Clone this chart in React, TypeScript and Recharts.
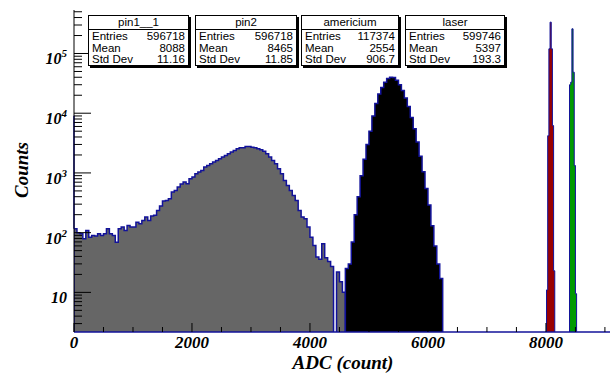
import { ComposedChart, Area, XAxis, YAxis, ReferenceLine } from 'recharts';

// histogram counts (log scale)
const greyStart = 0;
const greyBin = 50;
const greyCounts = [
  116, 100, 96, 79, 109, 84, 90, 88, 96, 90,
  96, 116, 96, 90, 69, 116, 124, 109, 132, 124,
  124, 150, 141, 160, 182, 160, 190, 195, 236, 280,
  340, 345, 370, 478, 509, 579, 650, 703, 659, 798,
  851, 968, 1033, 1100, 1253, 1336, 1425, 1518, 1620, 1727,
  1841, 1963, 2094, 2233, 2380, 2540, 2636, 2636, 2775, 2775,
  2700, 2636, 2540, 2443, 2317, 2094, 1841, 1620, 1425, 1175,
  968, 749, 618, 509, 420, 347, 236, 182, 171, 124,
  84, 61, 39, 36, 65, 38, 33, 27, 1, 22,
  15, 10,
];

const blackStart = 4600;
const blackBin = 50;
const blackCounts = [
  25, 30, 70, 200, 400, 900, 1700, 3000, 5000, 9000,
  14500, 21000, 27000, 33000, 38000, 40200, 39500, 35500, 30000, 24000,
  18000, 13000, 8500, 5500, 3300, 1900, 1050, 550, 290, 130,
  60, 30, 17,
];

const redStart = 8010;
const redBin = 20;
const redCounts = [11, 4200, 120000, 335000, 120000, 6200, 23];

const greenStart = 8400;
const greenBin = 20;
const greenCounts = [30000, 33100, 259000, 48600, 1330, 9.5];

// axes
const xTicks = [0, 500, 1000, 1500, 2000, 2500, 3000, 3500, 4000, 4500, 5000, 5500, 6000, 6500, 7000, 7500, 8000, 8500, 9000];
const xLabelEvery = 2000;
const decades = [1, 10, 100, 1000, 10000, 100000];
const X_DOMAIN: [number, number] = [0, 9120];
const Y_DOMAIN: [number, number] = [2.17, 535000];

// stat boxes
const statTitles = ['pin1__1', 'pin2', 'americium', 'laser'];
const statEntries = ['596718', '596718', '117374', '599746'];
const statMeans = ['8088', '8465', '2554', '5397'];
const statStdDevs = ['11.16', '11.85', '906.7', '193.3'];
const statLefts = [88, 195, 301, 405];
const statWidths = [101, 102, 98, 100];

const PLOT_L = 74;
const PLOT_R = 612;
const PLOT_T = 10;
const PLOT_B = 332;
const FLOOR = 1;
const OUTLINE = '#12129a';

const serif = {
  fontFamily: "'Liberation Serif', 'Times New Roman', serif",
  fontWeight: 'bold' as const,
  fontStyle: 'italic' as const,
  fill: '#000',
};

const yTicks: number[] = [];
decades.forEach((d) => {
  for (let m = 1; m <= 9; m++) {
    const v = d * m;
    if (v >= Y_DOMAIN[0] && v <= Y_DOMAIN[1]) yTicks.push(v);
  }
});

function buildHist(start: number, bin: number, counts: number[]) {
  const end = start + counts.length * bin;
  return [
    { x: start, y: FLOOR },
    ...counts.map((c, i) => ({ x: start + i * bin, y: c })),
    { x: end, y: counts[counts.length - 1] },
    { x: end, y: FLOOR },
  ];
}

const greyData = buildHist(greyStart, greyBin, greyCounts);
const blackData = buildHist(blackStart, blackBin, blackCounts);
const redData = buildHist(redStart, redBin, redCounts);
const greenData = buildHist(greenStart, greenBin, greenCounts);

const isDecade = (v: number) => {
  const e = Math.log10(v);
  return Math.abs(e - Math.round(e)) < 1e-9;
};

// eslint-disable-next-line @typescript-eslint/no-explicit-any
const BottomTick = ({ x, payload }: any) => {
  const v = payload.value;
  const major = v % xLabelEvery === 0;
  return (
    <g>
      <line x1={x} x2={x} y1={PLOT_B} y2={PLOT_B - (major ? 9 : 5)} stroke="#000" />
      {major && (
        <text x={x} y={348} textAnchor="middle" fontSize={17} style={serif}>
          {v}
        </text>
      )}
    </g>
  );
};

// eslint-disable-next-line @typescript-eslint/no-explicit-any
const TopTick = ({ x, payload }: any) => {
  const major = payload.value % xLabelEvery === 0;
  return <line x1={x} x2={x} y1={PLOT_T} y2={PLOT_T + (major ? 9 : 5)} stroke="#000" />;
};

// eslint-disable-next-line @typescript-eslint/no-explicit-any
const LeftTick = ({ y, payload }: any) => {
  const v = payload.value;
  const major = isDecade(v);
  const n = Math.round(Math.log10(v));
  return (
    <g>
      <line x1={PLOT_L} x2={PLOT_L + (major ? 17 : 8)} y1={y} y2={y} stroke="#000" />
      {major && (
        <text x={67} y={y + 11} textAnchor="end" fontSize={16} style={serif}>
          10
          {n > 1 && (
            <tspan dy={-7} fontSize={11}>
              {n}
            </tspan>
          )}
        </text>
      )}
    </g>
  );
};

// eslint-disable-next-line @typescript-eslint/no-explicit-any
const RightTick = ({ y, payload }: any) => {
  const major = isDecade(payload.value);
  return <line x1={PLOT_R} x2={PLOT_R - (major ? 17 : 8)} y1={y} y2={y} stroke="#000" />;
};

function StatBox({ i }: { i: number }) {
  const row = {
    display: 'flex',
    justifyContent: 'space-between',
    padding: '0 3px',
    height: 11.5,
    lineHeight: '11.5px',
  };
  return (
    <div
      style={{
        position: 'absolute',
        left: statLefts[i],
        top: 15,
        width: statWidths[i],
        height: 51,
        boxSizing: 'border-box',
        border: '1px solid #000',
        background: '#fff',
        boxShadow: '2px 2px 0 #000',
        fontFamily: "'Liberation Sans', Arial, sans-serif",
        fontSize: 11.5,
        color: '#000',
      }}
    >
      <div style={{ height: 13, lineHeight: '13px', textAlign: 'center', borderBottom: '1px solid #000' }}>
        {statTitles[i]}
      </div>
      <div style={{ paddingTop: 1 }}>
        <div style={row}>
          <span>Entries</span>
          <span>{statEntries[i]}</span>
        </div>
        <div style={row}>
          <span>Mean</span>
          <span>{statMeans[i]}</span>
        </div>
        <div style={row}>
          <span>Std Dev</span>
          <span>{statStdDevs[i]}</span>
        </div>
      </div>
    </div>
  );
}

export default function App() {
  return (
    <div
      style={{
        position: 'fixed',
        left: 0,
        top: 0,
        width: 610,
        height: 374,
        overflow: 'hidden',
        background: '#fff',
      }}
    >
      <ComposedChart width={620} height={374} margin={{ top: PLOT_T, right: 620 - PLOT_R, left: 0, bottom: 0 }}>
        <XAxis
          xAxisId="b"
          dataKey="x"
          type="number"
          domain={X_DOMAIN}
          allowDataOverflow
          ticks={xTicks}
          interval={0}
          tickLine={false}
          tick={<BottomTick />}
          height={374 - PLOT_B}
          axisLine={{ stroke: OUTLINE, strokeWidth: 1.5 }}
        />
        <XAxis
          xAxisId="t"
          orientation="top"
          dataKey="x"
          type="number"
          domain={X_DOMAIN}
          allowDataOverflow
          ticks={xTicks}
          interval={0}
          tickLine={false}
          tick={<TopTick />}
          height={0}
          axisLine={{ stroke: '#000' }}
        />
        <YAxis
          yAxisId="l"
          dataKey="y"
          type="number"
          scale="log"
          domain={Y_DOMAIN}
          allowDataOverflow
          ticks={yTicks}
          interval={0}
          tickLine={false}
          tick={<LeftTick />}
          width={PLOT_L}
          axisLine={{ stroke: '#000' }}
        />
        <YAxis
          yAxisId="r"
          orientation="right"
          dataKey="y"
          type="number"
          scale="log"
          domain={Y_DOMAIN}
          allowDataOverflow
          ticks={yTicks}
          interval={0}
          tickLine={false}
          tick={<RightTick />}
          width={0}
          axisLine={{ stroke: '#000' }}
        />
        <Area
          xAxisId="b"
          yAxisId="l"
          data={greyData}
          dataKey="y"
          type="stepAfter"
          baseValue="dataMin"
          fill="#666666"
          fillOpacity={1}
          stroke={OUTLINE}
          strokeWidth={1.5}
          isAnimationActive={false}
        />
        <Area
          xAxisId="b"
          yAxisId="l"
          data={blackData}
          dataKey="y"
          type="stepAfter"
          baseValue="dataMin"
          fill="#000000"
          fillOpacity={1}
          stroke={OUTLINE}
          strokeWidth={1.5}
          isAnimationActive={false}
        />
        <Area
          xAxisId="b"
          yAxisId="l"
          data={redData}
          dataKey="y"
          type="stepAfter"
          baseValue="dataMin"
          fill="#990000"
          fillOpacity={1}
          stroke={OUTLINE}
          strokeWidth={1}
          isAnimationActive={false}
        />
        <Area
          xAxisId="b"
          yAxisId="l"
          data={greenData}
          dataKey="y"
          type="stepAfter"
          baseValue="dataMin"
          fill="#009a00"
          fillOpacity={1}
          stroke={OUTLINE}
          strokeWidth={1}
          isAnimationActive={false}
        />
        <ReferenceLine
          xAxisId="b"
          yAxisId="l"
          segment={[
            { x: 0, y: 9100 },
            { x: 0, y: 116 },
          ]}
          stroke={OUTLINE}
          strokeWidth={1.5}
        />
      </ComposedChart>
      {statTitles.map((_, i) => (
        <StatBox key={i} i={i} />
      ))}
      <div
        style={{
          position: 'absolute',
          left: 343,
          top: 353,
          transform: 'translateX(-50%)',
          whiteSpace: 'nowrap',
          fontFamily: "'Liberation Serif', 'Times New Roman', serif",
          fontWeight: 'bold',
          fontStyle: 'italic',
          fontSize: 19,
          lineHeight: '20px',
        }}
      >
        ADC (count)
      </div>
      <div
        style={{
          position: 'absolute',
          left: 22,
          top: 170,
          transform: 'translate(-50%, -50%) rotate(-90deg)',
          whiteSpace: 'nowrap',
          fontFamily: "'Liberation Serif', 'Times New Roman', serif",
          fontWeight: 'bold',
          fontStyle: 'italic',
          fontSize: 19,
          lineHeight: '22px',
        }}
      >
        Counts
      </div>
    </div>
  );
}
